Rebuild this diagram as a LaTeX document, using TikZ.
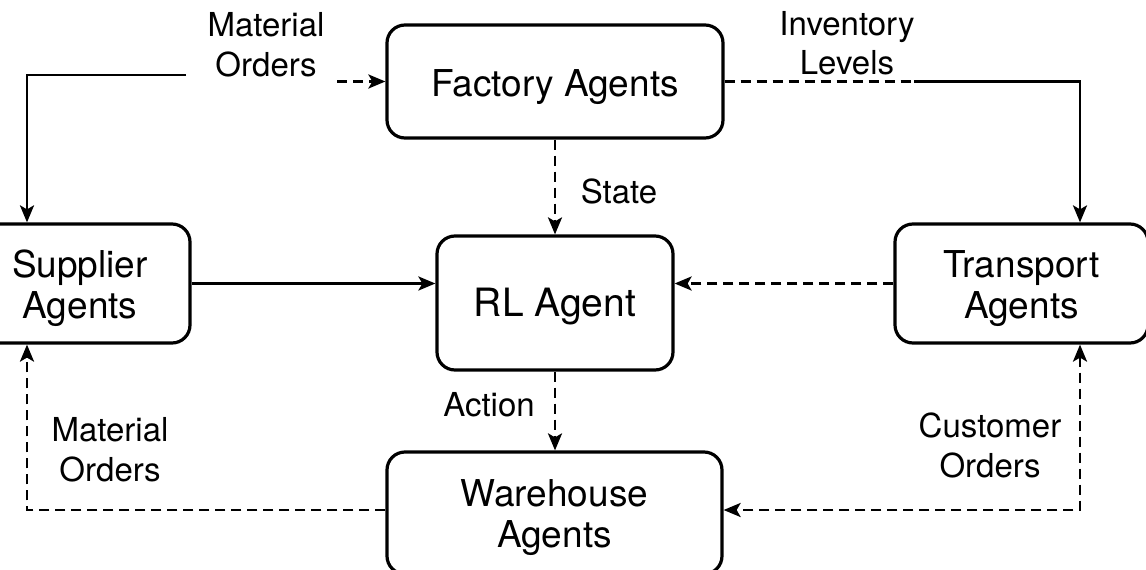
\documentclass[tikz,border=0pt]{standalone}
\usepackage{fontspec}
\setmainfont{TeX Gyre Heros}
\usetikzlibrary{arrows.meta}
\tikzset{
  ft/.tip={Stealth[length=17pt,width=14pt,inset=4pt]},
  agent/.style={draw, line width=3.2pt, rounded corners=18pt, align=center,
    font=\fontsize{37}{41}\selectfont, inner sep=0pt},
  lbl/.style={align=center, font=\fontsize{33}{39.5}\selectfont, inner sep=0pt},
  flow/.style={line width=2.8pt, -ft},
  dflow/.style={flow, dash pattern=on 10pt off 6pt},
  dline/.style={line width=2.8pt, dash pattern=on 10pt off 6pt},
}
\begin{document}
\begin{tikzpicture}[x=1pt,y=-1pt]
\useasboundingbox (0,0) rectangle (1146,570);
\clip (0,0) rectangle (1146,570);

% agents (the struts set where the text sits inside each box)
\node[agent, minimum width=336pt, minimum height=113pt] (fac) at (555,81.5) {\rule{0pt}{39pt}Factory Agents};
\node[agent, minimum width=236pt, minimum height=134pt, font=\fontsize{39}{44}\selectfont] (rl) at (555,303) {\rule{0pt}{36pt}RL Agent};
\node[agent, minimum width=220pt, minimum height=119pt] (sup) at (80,283.5) {\rule{0pt}{38pt}Supplier\\Agents};
\node[agent, minimum width=253pt, minimum height=119pt] (tr) at (1021.5,283.5) {\rule{0pt}{38pt}Transport\\Agents};
\node[agent, minimum width=335pt, minimum height=122pt] (wh) at (554.5,513) {\rule{0pt}{36pt}Warehouse\\Agents};

% routing helpers
\coordinate (xl) at (27,0);
\coordinate (xr) at (1080,0);
\coordinate (yb) at (0,510);
\coordinate (moA) at (186,75);
\coordinate (moB) at (337,81.5);
\coordinate (ilA) at (914,0);

% edge labels
\node[lbl] (lmo) at (266,45) {Material\\Orders};
\node[lbl] (lil) at (847,43) {Inventory\\Levels};
\node[lbl] (lst) at (619,191.5) {State};
\node[lbl] (lac) at (489,405) {Action};
\node[lbl] (lmb) at (110,450) {Material\\Orders};
\node[lbl] (lco) at (990,445.5) {Customer\\Orders};

% connectors
\draw[flow] (moA) -| (sup.north -| xl);
\draw[dflow] (moB) -- (moB -| fac.west);
\draw[dline] (fac.east) -- (fac.east -| ilA);
\draw[flow] (fac.east -| ilA) -| (tr.north -| xr);
\draw[dflow] (fac.south) -- (rl.north);
\draw[dflow] (rl.south) -- (rl.south |- wh.north);
\draw[flow] (sup.east) -- (sup.east -| rl.west);
\draw[dflow] (tr.west) -- (tr.west -| rl.east);
\draw[dflow] (wh.west |- yb) -| (sup.south -| xl);
\draw[dflow, ft-ft] (tr.south -| xr) |- (wh.east |- yb);
\end{tikzpicture}
\end{document}
